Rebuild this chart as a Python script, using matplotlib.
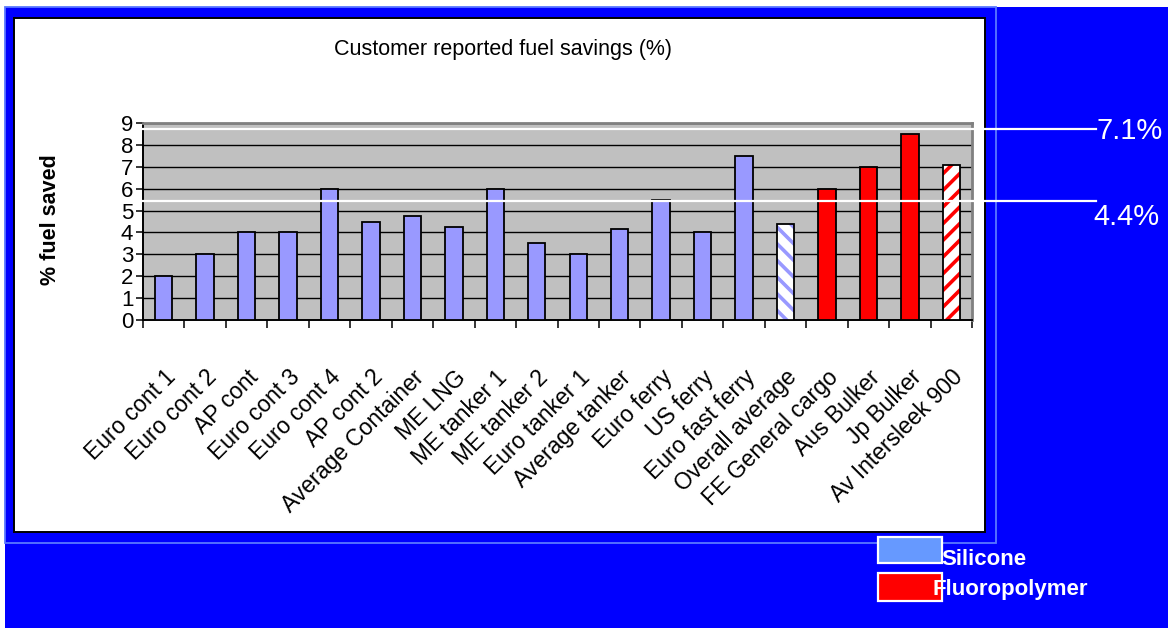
import numpy as np
import matplotlib
matplotlib.use("Agg")
import matplotlib.pyplot as plt
from matplotlib.patches import Rectangle
from matplotlib.lines import Line2D

plt.rcParams["font.family"] = ["Liberation Sans", "DejaVu Sans"]
plt.rcParams["hatch.linewidth"] = 2.6

# ---- data -------------------------------------------------------------
categories = [
    "Euro cont 1", "Euro cont 2", "AP cont", "Euro cont 3", "Euro cont 4",
    "AP cont 2", "Average Container", "ME LNG", "ME tanker 1", "ME tanker 2",
    "Euro tanker 1", "Average tanker", "Euro ferry", "US ferry",
    "Euro fast ferry", "Overall average", "FE General cargo", "Aus Bulker",
    "Jp Bulker", "Av Intersleek 900",
]
savings = [2, 3, 4, 4, 6, 4.5, 4.75, 4.25, 6, 3.5,
           3, 4.15, 5.5, 4, 7.5, 4.4, 6, 7, 8.5, 7.1]
coating = ["Silicone"] * 16 + ["Fluoropolymer"] * 4
is_average = [False] * 15 + [True] + [False] * 3 + [True]
coatings = ["Silicone", "Fluoropolymer"]
title = "Customer reported fuel savings (%)"
ylabel = "% fuel saved"
yticks = list(range(10))

# ---- styling ----------------------------------------------------------
bar_colors = {"Silicone": "#9999FF", "Fluoropolymer": "#FF0000"}
legend_colors = {"Silicone": "#6699FF", "Fluoropolymer": "#FF0000"}
hatches = {"Silicone": "\\\\", "Fluoropolymer": "//"}

W, H = 1168, 628
fig = plt.figure(figsize=(W / 100, H / 100), dpi=100, facecolor="white")


def fx(x):
    return x / W


def fy(y):
    return 1 - y / H


def fig_rect(x0, y0, x1, y1, **kw):
    r = Rectangle((fx(x0), fy(y1)), fx(x1) - fx(x0), fy(y0) - fy(y1),
                  transform=fig.transFigure, **kw)
    fig.add_artist(r)
    return r


# backdrop, outer frame and white chart panel
fig_rect(5, 7, W + 5, H + 5, facecolor="#0000FF", edgecolor="none", zorder=-10)
fig_rect(5, 7, 996, 543, facecolor="none", edgecolor="#5a78ff", lw=1.3, zorder=-9)
fig_rect(14, 18, 985, 532, facecolor="white", edgecolor="black", lw=1.4, zorder=-8)

# ---- plot area --------------------------------------------------------
ax = fig.add_axes([fx(143), fy(320), fx(972) - fx(143), fy(123) - fy(320)])
ax.set_facecolor("#C0C0C0")

x = np.arange(len(categories))
width = 0.42
for i, (v, c, avg) in enumerate(zip(savings, coating, is_average)):
    if avg:
        ax.bar(x[i], v, width, color="white", edgecolor=bar_colors[c],
               hatch=hatches[c], linewidth=0, zorder=3)
        ax.bar(x[i], v, width, fill=False, edgecolor="black", linewidth=1.3,
               zorder=4)
    else:
        ax.bar(x[i], v, width, color=bar_colors[c], edgecolor="black",
               linewidth=1.3, zorder=3)

ax.set_xlim(-0.5, len(categories) - 0.5)
ax.set_ylim(0, 9)
ax.set_yticks(yticks)
ax.yaxis.grid(True, color="black", lw=1.0)
ax.set_axisbelow(True)

ax.set_xticks(x)
ax.set_xticklabels(categories, rotation=45, ha="right", va="top",
                   rotation_mode="anchor", fontsize=16.5)
ax.set_xticks(np.arange(-0.5, len(categories), 1.0), minor=True)
ax.tick_params(axis="x", which="major", length=0, pad=33)
ax.tick_params(axis="x", which="minor", length=6, width=1.1, color="black",
               direction="out")
ax.tick_params(axis="y", length=5, width=1.1, labelsize=16, pad=2)

for s in ("left", "bottom"):
    ax.spines[s].set_color("black")
    ax.spines[s].set_linewidth(1.4)
for s in ("top", "right"):
    ax.spines[s].set_color("#808080")
    ax.spines[s].set_linewidth(2.0)

# ---- titles -----------------------------------------------------------
fig.text(fx(503), fy(50), title, ha="center", va="center", fontsize=15.5)
fig.text(fx(51), fy(220), ylabel, rotation=90, ha="center", va="center",
         fontsize=15.5, fontweight="bold")

# ---- callouts for the two averages ------------------------------------
for yy in (129, 201):
    fig.add_artist(Line2D([fx(143), fx(1096)], [fy(yy), fy(yy)],
                          transform=fig.transFigure, color="white", lw=1.6,
                          zorder=10))
fig.text(fx(1097), fy(139), f"{savings[19]:.1f}%", color="white", fontsize=21,
         ha="left", va="baseline", zorder=11)
fig.text(fx(1093), fy(225), f"{savings[15]:.1f}%", color="white", fontsize=21,
         ha="left", va="baseline", zorder=11)

# ---- legend -----------------------------------------------------------
legend_boxes = [(537, 563, 941, 565), (573, 601, 933, 595)]
for name, (y0, y1, tx, ty) in zip(coatings, legend_boxes):
    fig_rect(878, y0, 942, y1, facecolor=legend_colors[name],
             edgecolor="white", lw=1.6, zorder=5)
    fig.text(fx(tx), fy(ty), name, color="white", fontsize=16,
             fontweight="bold", ha="left", va="baseline", zorder=6)

fig.savefig("out.png", dpi=100, facecolor=fig.get_facecolor())
